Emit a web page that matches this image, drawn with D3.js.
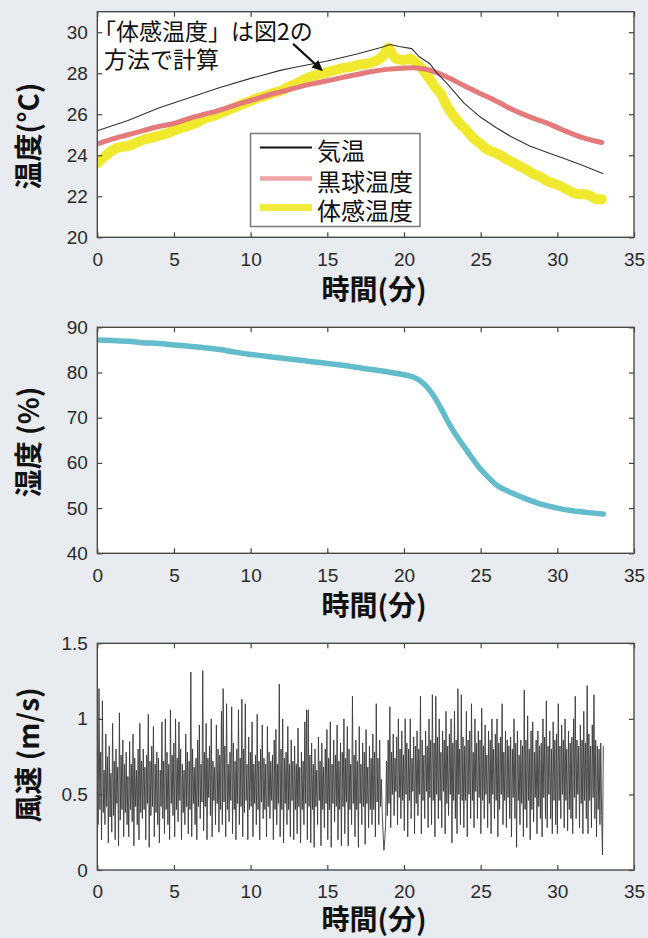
<!DOCTYPE html>
<html><head><meta charset="utf-8">
<script src="https://cdn.jsdelivr.net/npm/d3@7"></script>
<style>
html,body{margin:0;padding:0;background:#e8ebf0;}
svg{display:block;}
.tick text{font-family:"Liberation Sans",Arial,sans-serif;font-size:19px;fill:#2a2a2a;}
.jp{font-family:"Noto Sans CJK JP",sans-serif;}
</style></head><body>
<svg id="c" width="648" height="938"></svg>
<script>
// ---- data ----
const xTicks = [0,5,10,15,20,25,30,35];
const tempTicks = [20,22,24,26,28,30];
const humTicks = [40,50,60,70,80,90];
const windTicks = [0,0.5,1,1.5];

const airT = [0,2,4,6,8,10,12,13,15,17,18.5,19.1,19.7,20.5,21,21.7,22.1,22.8,23.9,25,26,27,28.2,29.3,30.4,31.5,33];
const airV = [25.2,25.7,26.3,26.8,27.3,27.75,28.15,28.3,28.6,28.95,29.25,29.4,29.3,29.2,28.8,28.45,28.05,27.5,26.55,25.85,25.35,24.9,24.45,24.15,23.85,23.55,23.1];

const globeT = [0,1,2,3,4,5,6,7,8,9,10,11,12,13,14,15,16,17,18,19,20,20.6,21.5,22.8,23.9,25,26,27,28.2,29.3,30.4,31.5,32.9];
const globeV = [24.55,24.8,25.0,25.2,25.4,25.55,25.8,26.0,26.2,26.45,26.67,26.9,27.1,27.3,27.48,27.63,27.8,27.95,28.1,28.2,28.25,28.27,28.18,27.82,27.4,27.0,26.65,26.25,25.87,25.58,25.22,24.9,24.62];

const feltT = [0,0.5,1,1.5,2,2.5,3,3.5,4,4.5,5,5.5,6,6.5,7,7.5,8,8.5,9,9.5,10,10.5,11,11.5,12,12.5,13,13.5,14,14.5,15,15.5,16,16.5,17,17.5,18,18.4,18.7,19.0,19.2,19.5,20,20.4,20.8,21.2,21.5,22,22.4,22.8,23.2,23.7,24.1,24.5,25,25.4,26,26.4,26.7,27.1,27.6,28,28.4,28.9,29.3,29.8,30.2,30.6,31,31.5,31.9,32.3,32.6,32.9];
const feltV = [23.6,23.95,24.25,24.4,24.45,24.6,24.75,24.85,24.95,25.05,25.2,25.35,25.45,25.6,25.8,25.9,26.05,26.2,26.35,26.5,26.65,26.8,26.9,27.05,27.15,27.35,27.5,27.7,27.85,27.95,28.05,28.15,28.25,28.3,28.4,28.45,28.55,28.7,28.9,29.25,29.0,28.7,28.65,28.7,28.5,28.2,27.9,27.35,27.0,26.4,25.95,25.5,25.2,24.85,24.55,24.3,24.1,23.95,23.8,23.65,23.45,23.3,23.1,22.95,22.75,22.62,22.5,22.35,22.18,22.1,22.1,21.95,21.85,21.85];

const humT = [0,1,2,3,4,5,6,7,8,9,10,11,12,13,14,15,16,17,18,19,20,20.6,21,21.5,22,22.5,23,23.5,24,24.5,25,25.5,26,26.5,27,28,29,30,31,32,33];
const humV = [87.2,87.1,86.9,86.6,86.4,86.1,85.8,85.5,85.1,84.5,84.0,83.6,83.2,82.8,82.4,82.0,81.6,81.1,80.6,80.1,79.5,79.0,78.3,76.8,74.5,71.5,68.3,65.6,63.2,60.8,58.6,56.8,55.2,54.2,53.4,52.0,50.8,50.0,49.4,49.0,48.7];

// wind speed, sampled uniformly from 0 to 33 min (one row per minute)
const windV = [
0.7,0.3,1.2,0.4,0.78,0.2,1.12,0.38,0.66,0.3,0.9,0.42,0.75,0.18,0.82,0.35,0.64,0.25,
0.97,0.36,0.72,0.2,0.8,0.44,0.68,0.16,1.04,0.33,0.76,0.4,0.86,0.22,0.7,0.38,0.78,0.3,
0.62,0.22,0.85,0.4,0.7,0.32,0.9,0.16,0.74,0.42,0.66,0.3,0.8,0.2,0.97,0.38,0.72,0.34,
0.8,0.4,0.68,0.2,0.76,0.44,1.03,0.15,0.72,0.36,0.82,0.42,0.95,0.22,0.7,0.38,0.78,0.3,
0.74,0.18,0.66,0.42,0.98,0.34,0.72,0.24,1.0,0.4,0.78,0.3,0.7,0.2,1.06,0.44,0.76,0.36,
0.84,0.22,1.0,0.4,0.74,0.32,0.98,0.46,0.8,0.2,0.7,0.38,0.66,0.3,0.9,0.42,0.78,0.24,
0.72,0.4,1.31,0.22,0.8,0.44,0.68,0.3,0.74,0.2,0.86,0.42,0.96,0.34,0.7,0.45,1.32,0.26,
0.78,0.42,0.97,0.2,0.74,0.48,0.82,0.36,1.0,0.22,0.72,0.46,0.68,0.3,0.96,0.44,0.8,0.25,
0.76,0.4,1.05,0.3,1.2,0.45,0.82,0.22,1.1,0.4,0.7,0.32,0.78,0.46,1.08,0.24,0.84,0.4,
0.72,0.2,0.8,0.44,1.06,0.3,0.74,0.42,1.13,0.22,0.8,0.38,1.1,0.46,0.7,0.2,0.88,0.4,
0.78,0.42,0.98,0.22,0.7,0.44,0.76,0.3,1.03,0.4,0.72,0.2,0.8,0.45,0.96,0.34,0.74,0.4,
0.7,0.22,0.95,0.42,0.78,0.34,0.72,0.46,0.76,0.2,0.86,0.4,0.93,0.3,0.7,0.44,1.23,0.22,
0.8,0.4,1.0,0.18,0.74,0.44,0.78,0.3,0.95,0.4,0.7,0.22,0.86,0.46,0.72,0.2,0.82,0.4,
0.7,0.24,0.94,0.42,0.68,0.18,0.78,0.4,0.72,0.3,0.98,0.44,1.06,0.2,1.06,0.42,0.76,0.18,
0.84,0.4,0.7,0.15,0.8,0.42,0.66,0.3,0.88,0.46,0.72,0.16,0.84,0.4,0.68,0.28,0.8,0.44,
0.93,0.2,0.74,0.4,0.98,0.15,0.7,0.44,0.86,0.32,0.76,0.42,0.96,0.2,0.72,0.4,0.84,0.16,
0.78,0.42,1.0,0.24,0.74,0.45,0.95,0.16,0.8,0.4,0.7,0.3,1.15,0.44,0.76,0.22,0.86,0.4,
0.72,0.15,0.95,0.44,0.7,0.3,0.84,0.42,0.78,0.17,0.93,0.44,0.68,0.28,0.82,0.4,0.74,0.3,
0.9,0.4,0.78,0.22,1.1,0.45,0.74,0.3,0.86,0.42,0.6,0.38,0.25,0.13,0.2,0.3,0.72,0.36,
0.86,0.44,1.08,0.28,0.78,0.5,0.9,0.36,0.74,0.52,0.88,0.3,1.0,0.48,0.8,0.34,0.92,0.46,
0.76,0.26,1.0,0.5,0.84,0.22,0.8,0.46,1.0,0.34,0.74,0.52,0.88,0.24,0.82,0.44,0.92,0.36,
0.8,0.5,1.15,0.24,0.86,0.46,0.76,0.34,0.92,0.52,0.82,0.28,1.0,0.48,0.86,0.3,1.16,0.46,
0.84,0.22,1.15,0.5,0.88,0.34,1.0,0.46,0.78,0.28,0.92,0.52,0.86,0.24,1.05,0.44,0.82,0.36,
0.9,0.5,1.0,0.18,0.84,0.46,1.05,0.34,0.86,0.24,1.2,0.5,0.8,0.3,1.16,0.46,0.88,0.28,
0.82,0.46,1.05,0.22,0.86,0.5,0.92,0.34,1.1,0.46,0.78,0.28,1.0,0.52,0.84,0.34,0.92,0.48,
0.86,0.24,1.07,0.46,0.82,0.34,0.96,0.5,0.76,0.28,0.92,0.44,0.86,0.24,1.0,0.5,0.8,0.34,
0.9,0.46,1.0,0.22,0.84,0.4,0.88,0.5,1.1,0.3,0.78,0.46,0.92,0.28,0.86,0.48,0.82,0.34,
0.88,0.22,0.8,0.48,1.0,0.34,0.84,0.15,0.92,0.46,0.76,0.3,0.86,0.44,0.82,0.22,1.19,0.4,
0.86,0.28,1.02,0.46,0.8,0.2,0.92,0.4,0.98,0.32,0.78,0.48,0.86,0.24,0.92,0.42,0.82,0.34,
0.84,0.22,1.0,0.48,0.88,0.34,1.12,0.28,0.82,0.5,0.92,0.34,0.8,0.24,0.98,0.46,0.86,0.3,
0.9,0.24,1.1,0.46,0.82,0.34,0.96,0.5,0.86,0.28,1.0,0.46,0.8,0.26,0.92,0.4,0.84,0.34,
0.88,0.24,1.0,0.48,1.15,0.34,0.86,0.5,0.82,0.28,0.96,0.44,0.86,0.24,1.05,0.46,0.84,0.34,
1.22,0.24,0.9,0.46,0.82,0.28,0.96,0.48,1.16,0.34,0.86,0.22,0.82,0.4,0.8,0.3,0.84,0.36,
0.1,0.82];
const windT = windV.map((d,i)=> i*33/(windV.length-1));

const legendLabels = ["気温","黒球温度","体感温度"];

// ---- layout ----
const svg = d3.select("#c");
const L = 97.3, R = 634;
const x = d3.scaleLinear().domain([0,35]).range([L,R]);

const panels = [
  {top:11.7, bottom:237.3, dom:[20,31], ticks:tempTicks, fmt:d3.format("d"), title:"温度(°C)", ty:136, pad:15, tb:62.5},
  {top:327.3, bottom:553.3, dom:[40,90], ticks:humTicks, fmt:d3.format("d"), title:"湿度 (%)", ty:442, pad:15, tb:62.5},
  {top:643.3, bottom:870, dom:[0,1.5], ticks:windTicks, fmt:d=>String(d), title:"風速 (m/s)", ty:755, pad:15, tb:59.5}
];

panels.forEach((p,i)=>{
  p.y = d3.scaleLinear().domain(p.dom).range([p.bottom,p.top]);
  const g = svg.append("g");
  p.g = g;
  g.append("rect").attr("x",L).attr("y",p.top).attr("width",R-L).attr("height",p.bottom-p.top).attr("fill","#fff");
  const cid = "clip"+i;
  svg.append("clipPath").attr("id",cid).append("rect").attr("x",L).attr("y",p.top).attr("width",R-L).attr("height",p.bottom-p.top);
  p.plot = g.append("g").attr("clip-path",`url(#${cid})`);
});

const lineOf = (xs, ys, yScale, curve) => d3.line().x((d,i)=>x(xs[i])).y((d,i)=>yScale(ys[i])).curve(curve||d3.curveLinear)(ys);

// panel 1 lines
const p1 = panels[0];
p1.plot.append("path").attr("d",lineOf(feltT,feltV,p1.y,d3.curveMonotoneX)).attr("fill","none").attr("stroke","#f1e92e").attr("stroke-width",10).attr("stroke-linejoin","round").attr("stroke-linecap","round");
p1.plot.append("path").attr("d",lineOf(globeT,globeV,p1.y,d3.curveMonotoneX)).attr("fill","none").attr("stroke","#e47a7b").attr("stroke-width",5).attr("stroke-linecap","round");
p1.plot.append("path").attr("d",lineOf(airT,airV,p1.y)).attr("fill","none").attr("stroke","#333").attr("stroke-width",1.1);

// panel 2
const p2 = panels[1];
p2.plot.append("path").attr("d",lineOf(humT,humV,p2.y,d3.curveMonotoneX)).attr("fill","none").attr("stroke","#62bccb").attr("stroke-width",5.5).attr("stroke-linecap","round");

// panel 3
const p3 = panels[2];
p3.plot.append("path").attr("d",lineOf(windT,windV,p3.y)).attr("fill","none").attr("stroke","#3a3a3a").attr("stroke-width",0.9);

// axes, frames, titles
panels.forEach((p,i)=>{
  const g = p.g;
  const xb = g.append("g").attr("transform",`translate(0,${p.bottom})`)
    .call(d3.axisBottom(x).tickValues(xTicks).tickSizeInner(-5).tickSizeOuter(0).tickPadding(p.pad));
  const xt = g.append("g").attr("transform",`translate(0,${p.top})`)
    .call(d3.axisTop(x).tickValues(xTicks).tickSizeInner(-5).tickSizeOuter(0).tickFormat(""));
  const yl = g.append("g").attr("transform",`translate(${L},0)`)
    .call(d3.axisLeft(p.y).tickValues(p.ticks).tickSizeInner(-5).tickSizeOuter(0).tickPadding(9.5).tickFormat(p.fmt));
  const yr = g.append("g").attr("transform",`translate(${R},0)`)
    .call(d3.axisRight(p.y).tickValues(p.ticks).tickSizeInner(-5).tickSizeOuter(0).tickFormat(""));
  [xb,xt,yl,yr].forEach(a=>{
    a.select(".domain").remove();
    a.selectAll(".tick line").attr("stroke","#444").attr("stroke-width",1.2);
    a.attr("font-size",null).attr("font-family",null);
  });
  g.append("rect").attr("x",L).attr("y",p.top).attr("width",R-L).attr("height",p.bottom-p.top)
    .attr("fill","none").attr("stroke","#4a4a4a").attr("stroke-width",1.4);
  g.append("text").attr("class","jp").attr("x",374).attr("y",p.bottom+p.tb)
    .attr("text-anchor","middle").attr("font-size",28).attr("font-weight","bold").attr("fill","#111").text("時間(分)");
  g.append("text").attr("class","jp").attr("transform",`translate(38.6,${p.ty}) rotate(-90)`)
    .attr("text-anchor","middle").attr("font-size",28).attr("font-weight","bold").attr("fill","#111").text(p.title);
});

// annotation
const ann = svg.append("g").attr("class","jp").attr("font-size",23).attr("fill","#111");
ann.append("text").attr("x",93).attr("y",40).text("「体感温度」は図2の");
ann.append("text").attr("x",104).attr("y",68).text("方法で計算");
const ax1 = x(12.77), ay1 = p1.y(29.43), ax2 = x(14.72), ay2 = p1.y(28.1);
const ang = Math.atan2(ay2-ay1, ax2-ax1), ah = 11, aw = 5;
svg.append("line").attr("x1",ax1).attr("y1",ay1).attr("x2",ax2-Math.cos(ang)*ah*0.8).attr("y2",ay2-Math.sin(ang)*ah*0.8)
  .attr("stroke","#111").attr("stroke-width",2.2);
const bx = ax2-Math.cos(ang)*ah, by = ay2-Math.sin(ang)*ah;
svg.append("polygon").attr("points",[[ax2,ay2],[bx-Math.sin(ang)*aw,by+Math.cos(ang)*aw],[bx+Math.sin(ang)*aw,by-Math.cos(ang)*aw]].map(d=>d.join(",")).join(" ")).attr("fill","#111");

// legend
const lg = svg.append("g");
lg.append("rect").attr("x",250.5).attr("y",133.5).attr("width",169.5).attr("height",93).attr("fill","#fff").attr("stroke","#7a7a7a").attr("stroke-width",1.5);
const lgStyles = [{c:"#111",w:2},{c:"#f1a3a4",w:4.5},{c:"#f3ec3e",w:7}];
const lgY = [147.5,178.5,207.5];
legendLabels.forEach((lab,i)=>{
  lg.append("line").attr("x1",260).attr("x2",312).attr("y1",lgY[i]).attr("y2",lgY[i]).attr("stroke",lgStyles[i].c).attr("stroke-width",lgStyles[i].w);
  lg.append("text").attr("class","jp").attr("x",317).attr("y",lgY[i]+12).attr("font-size",24).attr("fill","#111").text(lab);
});
</script>
</body></html>
